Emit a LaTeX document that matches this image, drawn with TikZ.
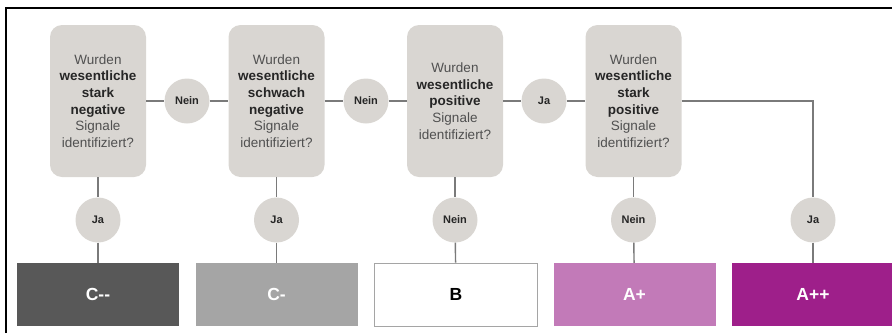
\documentclass[tikz,border=0pt]{standalone}
\usepackage{fontspec}
\setmainfont{Liberation Sans}
\usetikzlibrary{positioning}

\definecolor{qgrey}{HTML}{D9D6D2}
\definecolor{lgrey}{HTML}{7A7A7A}
\definecolor{cdark}{HTML}{585858}
\definecolor{clight}{HTML}{A5A5A5}
\definecolor{aplus}{HTML}{C27AB8}
\definecolor{aplusplus}{HTML}{9E1F8A}
\definecolor{txtreg}{HTML}{505050}
\definecolor{txtbold}{HTML}{262626}

\tikzset{
	question/.style={rectangle, rounded corners=12pt, fill=qgrey, minimum width=96pt, minimum height=152pt, inner sep=0pt, align=center, text=txtreg, font=\fontsize{13.5}{16.7}\selectfont},
	answer/.style={circle, fill=qgrey, minimum size=45pt, inner sep=0pt, text=txtbold, font=\fontsize{11}{13}\selectfont\bfseries},
	rating/.style={rectangle, minimum width=162pt, minimum height=63pt, inner sep=0pt, font=\fontsize{17.5}{20}\selectfont\bfseries},
	conn/.style={draw=lgrey, line width=1.4pt}
}
\newcommand{\bt}[1]{{\bfseries\color{txtbold}#1}}

\begin{document}
\begin{tikzpicture}[x=1pt, y=-1pt]
	\useasboundingbox (0,0) rectangle (892,333);

	%frame
	\draw[black, line width=2.2pt] (6,333) -- (6,8) -- (892,8);

	%question boxes
	\node[question] (q1) at (98,101) {Wurden\\\bt{wesentliche}\\\bt{stark}\\\bt{negative}\\Signale\\identifiziert?};
	\node[question] (q2) at (276.5,101) {Wurden\\\bt{wesentliche}\\\bt{schwach}\\\bt{negative}\\Signale\\identifiziert?};
	\node[question] (q3) at (455,101) {Wurden\\\bt{wesentliche}\\\bt{positive}\\Signale\\identifiziert?};
	\node[question] (q4) at (633.5,101) {Wurden\\\bt{wesentliche}\\\bt{stark}\\\bt{positive}\\Signale\\identifiziert?};

	%answers between the questions
	\node[answer] (n1) at (187,101) {Nein};
	\node[answer] (n2) at (366,101) {Nein};
	\node[answer] (j3) at (544,101) {Ja};

	%answers leading to the ratings
	\node[answer] (a1) at (98,220) {Ja};
	\node[answer] (a2) at (276.5,220) {Ja};
	\node[answer] (a3) at (455,220) {Nein};
	\node[answer] (a4) at (633.5,220) {Nein};
	\node[answer] (a5) at (813,220) {Ja};

	%ratings
	\node[rating, fill=cdark, text=white] (r1) at (98,294.5) {C-{}-};
	\node[rating, fill=clight, text=white] (r2) at (276.5,294.5) {C-};
	\node[rating, fill=white, draw=clight, line width=0.8pt, text=black, minimum width=163pt] (r3) at (456,294.5) {B};
	\node[rating, fill=aplus, text=white] (r4) at (634.5,294.5) {A+};
	\node[rating, fill=aplusplus, text=white] (r5) at (813,294.5) {A++};

	%connectors
	\draw[conn] (q1) -- (n1);
	\draw[conn] (n1) -- (q2);
	\draw[conn] (q2) -- (n2);
	\draw[conn] (n2) -- (q3);
	\draw[conn] (q3) -- (j3);
	\draw[conn] (j3) -- (q4);
	\draw[conn] (q4) -| (a5);
	\foreach \i in {1,...,4} {
		\draw[conn] (q\i) -- (a\i);
	}
	\foreach \i in {1,...,5} {
		\draw[conn] (a\i) -- (r\i);
	}
\end{tikzpicture}
\end{document}
